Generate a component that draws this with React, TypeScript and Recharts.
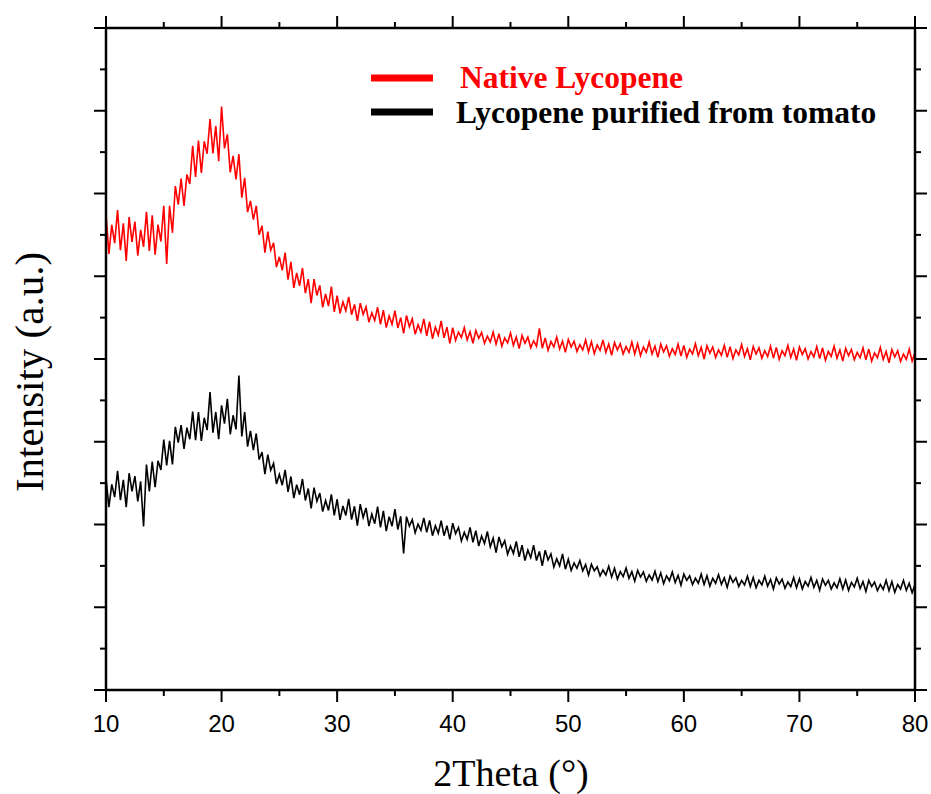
import React from 'react';
import { LineChart, Line, XAxis, YAxis, Legend } from 'recharts';

// 2Theta sampling grid (degrees)
const THETA_START = 10;
const THETA_STEP = 0.25;

const xTicks = [10, 15, 20, 25, 30, 35, 40, 45, 50, 55, 60, 65, 70, 75, 80];
const yTicks = [0, 100, 200, 300, 400, 500, 600, 700, 800, 900, 1000, 1100, 1200, 1300, 1400, 1500, 1600];

const seriesNames = ['Native Lycopene', 'Lycopene purified from tomato'];
const seriesColors = ['#ff0000', '#000000'];

// Native Lycopene (offset upward), values per 0.25 deg from 10 to 80
const nativeLycopene = [
  1152, 1054, 1124, 1080,
  1160, 1063, 1128, 1037,
  1143, 1083, 1132, 1050,
  1112, 1071, 1156, 1061,
  1147, 1052, 1125, 1084,
  1170, 1030, 1170, 1105,
  1218, 1173, 1236, 1170,
  1246, 1223, 1315, 1240,
  1328, 1250, 1326, 1296,
  1380, 1297, 1363, 1278,
  1410, 1309, 1343, 1251,
  1291, 1234, 1295, 1190,
  1238, 1155, 1182, 1137,
  1170, 1100, 1122, 1057,
  1108, 1063, 1081, 1022,
  1047, 1014, 1057, 992,
  1035, 972, 1008, 977,
  1020, 959, 993, 935,
  993, 954, 978, 925,
  957, 928, 975, 914,
  953, 910, 938, 917,
  950, 907, 932, 892,
  935, 908, 926, 889,
  912, 893, 925, 884,
  918, 876, 904, 884,
  917, 875, 900, 862,
  905, 878, 897, 860,
  883, 865, 897, 856,
  890, 849, 877, 858,
  892, 851, 877, 838,
  876, 845, 865, 852,
  876, 846, 866, 838,
  869, 850, 864, 838,
  855, 841, 865, 836,
  861, 831, 851, 839,
  863, 833, 853, 825,
  857, 838, 853, 827,
  844, 831, 874, 826,
  851, 821, 842, 829,
  853, 824, 843, 816,
  847, 829, 843, 818,
  835, 822, 846, 817,
  842, 813, 834, 821,
  846, 816, 836, 809,
  840, 822, 837, 812,
  830, 816, 841, 812,
  837, 808, 829, 816,
  841, 812, 831, 804,
  836, 817, 832, 807,
  825, 811, 836, 807,
  833, 804, 824, 812,
  837, 808, 828, 800,
  832, 814, 829, 804,
  822, 809, 833, 804,
  830, 801, 822, 810,
  835, 806, 825, 798,
  830, 812, 827, 802,
  820, 806, 831, 802,
  828, 799, 820, 808,
  833, 804, 824, 797,
  829, 811, 825, 800,
  818, 805, 830, 801,
  827, 797, 818, 806,
  831, 802, 822, 795,
  826, 808, 823, 798,
  816, 803, 827, 798,
  824, 795, 815, 803,
  828, 799, 818, 791,
  823, 805, 820, 794,
  812, 799, 824, 795,
  816,
];

// Lycopene purified from tomato, values per 0.25 deg from 10 to 80
const purifiedLycopene = [
  512, 442, 497, 466,
  530, 459, 508, 442,
  524, 480, 517, 456,
  504, 395, 545, 480,
  552, 490, 554, 532,
  605, 543, 602, 545,
  636, 598, 640, 583,
  634, 606, 673, 604,
  672, 602, 658, 628,
  720, 622, 672, 606,
  688, 644, 704, 618,
  664, 630, 760, 613,
  672, 588, 626, 580,
  620, 557, 575, 522,
  569, 531, 548, 498,
  521, 495, 532, 479,
  516, 464, 496, 472,
  510, 458, 487, 439,
  489, 456, 476, 431,
  458, 434, 473, 422,
  461, 411, 445, 422,
  462, 412, 444, 397,
  449, 417, 440, 396,
  425, 402, 443, 393,
  433, 384, 419, 396,
  437, 388, 420, 330,
  419, 396, 412, 380,
  401, 386, 416, 381,
  410, 373, 397, 379,
  409, 373, 397, 364,
  403, 378, 393, 360,
  381, 364, 393, 357,
  385, 348, 372, 354,
  383, 346, 367, 332,
  370, 346, 361, 328,
  348, 330, 359, 322,
  350, 313, 338, 320,
  350, 313, 335, 300,
  338, 314, 329, 297,
  317, 300, 329, 292,
  316, 289, 307, 294,
  313, 288, 303, 278,
  304, 288, 298, 276,
  290, 278, 299, 273,
  294, 268, 286, 274,
  295, 270, 286, 263,
  289, 273, 285, 263,
  278, 266, 287, 262,
  283, 257, 276, 264,
  285, 260, 277, 253,
  280, 265, 276, 255,
  270, 258, 280, 255,
  276, 251, 270, 258,
  279, 255, 271, 248,
  275, 260, 271, 250,
  265, 254, 275, 250,
  272, 247, 265, 254,
  275, 251, 267, 244,
  271, 256, 268, 246,
  261, 250, 272, 247,
  269, 244, 262, 251,
  272, 248, 265, 241,
  268, 253, 265, 244,
  259, 247, 269, 244,
  266, 241, 260, 249,
  270, 245, 262, 238,
  265, 250, 261, 240,
  255, 243, 265, 240,
  262, 236, 255, 244,
  265, 241, 258, 235,
  255,
];

const data = nativeLycopene.map((v, i) => ({
  theta: THETA_START + i * THETA_STEP,
  native: v,
  purified: purifiedLycopene[i],
}));

const AXIS_COLOR = '#000';
const TICK_W = 2;
const MAJOR = 12;
const MINOR = 6;

const BottomTick = (props: any) => {
  const { x, y, payload } = props;
  const major = payload.value % 10 === 0;
  return (
    <g>
      <line x1={x} x2={x} y1={y} y2={y + (major ? MAJOR : MINOR)} stroke={AXIS_COLOR} strokeWidth={TICK_W} />
      {major && (
        <text x={x} y={y + 42} textAnchor="middle" fontFamily="'Liberation Sans', Arial, sans-serif" fontSize={24} fill="#000">
          {payload.value}
        </text>
      )}
    </g>
  );
};

const TopTick = (props: any) => {
  const { x, y, payload } = props;
  const major = payload.value % 10 === 0;
  return <line x1={x} x2={x} y1={y} y2={y - (major ? MAJOR : MINOR)} stroke={AXIS_COLOR} strokeWidth={TICK_W} />;
};

const LeftTick = (props: any) => {
  const { x, y, payload } = props;
  const major = payload.value % 200 === 0;
  return <line x1={x} x2={x - (major ? MAJOR : MINOR)} y1={y} y2={y} stroke={AXIS_COLOR} strokeWidth={TICK_W} />;
};

const RightTick = (props: any) => {
  const { x, y, payload } = props;
  const major = payload.value % 200 === 0;
  return <line x1={x} x2={x + (major ? MAJOR : MINOR)} y1={y} y2={y} stroke={AXIS_COLOR} strokeWidth={TICK_W} />;
};

const LegendContent = () => (
  <div style={{ position: 'relative', height: 0 }}>
    <svg width={931} height={140} style={{ position: 'absolute', left: 0, top: 0, overflow: 'visible' }}>
      <line x1={371} x2={433} y1={78} y2={78} stroke={seriesColors[0]} strokeWidth={7} />
      <text x={460} y={88} fontFamily="'Liberation Serif', 'Times New Roman', serif" fontWeight="bold" fontSize={31.5} fill={seriesColors[0]}>
        {seriesNames[0]}
      </text>
      <line x1={371} x2={433} y1={112} y2={112} stroke={seriesColors[1]} strokeWidth={7} />
      <text x={456} y={123} fontFamily="'Liberation Serif', 'Times New Roman', serif" fontWeight="bold" fontSize={31.5} fill={seriesColors[1]}>
        {seriesNames[1]}
      </text>
    </svg>
  </div>
);

export default function App() {
  return (
    <div style={{ position: 'absolute', left: 0, top: 0, width: 931, height: 794, background: '#fff' }}>
      <LineChart width={931} height={794} data={data} margin={{ top: 27, right: 15, bottom: 103, left: 105 }}>
        <XAxis
          xAxisId="bottom"
          dataKey="theta"
          type="number"
          domain={[10, 80]}
          ticks={xTicks}
          interval={0}
          height={1}
          tickSize={0}
          tickMargin={0}
          tickLine={false}
          tick={(p: any) => <BottomTick {...p} />}
          axisLine={{ stroke: AXIS_COLOR, strokeWidth: 2.5 }}
          allowDataOverflow
        />
        <XAxis
          xAxisId="top"
          orientation="top"
          dataKey="theta"
          type="number"
          domain={[10, 80]}
          ticks={xTicks}
          interval={0}
          height={1}
          tickSize={0}
          tickMargin={0}
          tickLine={false}
          tick={(p: any) => <TopTick {...p} />}
          axisLine={{ stroke: AXIS_COLOR, strokeWidth: 2.5 }}
          allowDataOverflow
        />
        <YAxis
          yAxisId="left"
          type="number"
          domain={[0, 1600]}
          ticks={yTicks}
          interval={0}
          width={1}
          tickSize={0}
          tickMargin={0}
          tickLine={false}
          tick={(p: any) => <LeftTick {...p} />}
          axisLine={{ stroke: AXIS_COLOR, strokeWidth: 2.5 }}
          allowDataOverflow
        />
        <YAxis
          yAxisId="right"
          orientation="right"
          type="number"
          domain={[0, 1600]}
          ticks={yTicks}
          interval={0}
          width={1}
          tickSize={0}
          tickMargin={0}
          tickLine={false}
          tick={(p: any) => <RightTick {...p} />}
          axisLine={{ stroke: AXIS_COLOR, strokeWidth: 2.5 }}
          allowDataOverflow
        />
        <Legend content={() => <LegendContent />} wrapperStyle={{ position: 'absolute', left: 0, top: 0, width: 931, height: 0 }} />
        <Line
          xAxisId="bottom"
          yAxisId="left"
          type="linear"
          dataKey="native"
          name={seriesNames[0]}
          stroke={seriesColors[0]}
          strokeWidth={1.6}
          dot={false}
          isAnimationActive={false}
        />
        <Line
          xAxisId="bottom"
          yAxisId="left"
          type="linear"
          dataKey="purified"
          name={seriesNames[1]}
          stroke={seriesColors[1]}
          strokeWidth={1.6}
          dot={false}
          isAnimationActive={false}
        />
      </LineChart>
      <svg width={931} height={794} style={{ position: 'absolute', left: 0, top: 0, pointerEvents: 'none' }}>
        <text x={511} y={786} textAnchor="middle" fontFamily="'Liberation Serif', 'Times New Roman', serif" fontSize={38} fill="#000">
          2Theta (°)
        </text>
        <text transform="translate(43,372) rotate(-90)" textAnchor="middle" fontFamily="'Liberation Serif', 'Times New Roman', serif" fontSize={41} fill="#000">
          Intensity (a.u.)
        </text>
      </svg>
    </div>
  );
}
